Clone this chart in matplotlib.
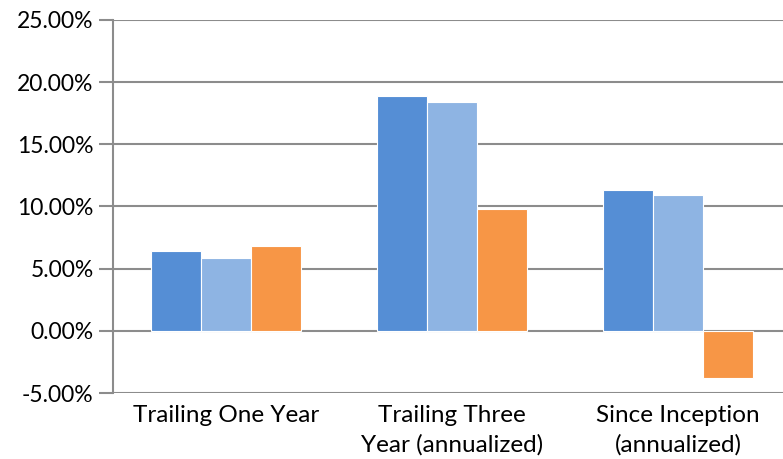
import matplotlib
matplotlib.use("Agg")
import matplotlib.pyplot as plt
import numpy as np
from matplotlib.ticker import FuncFormatter

categories = ["Trailing One Year", "Trailing Three\nYear (annualized)", "Since Inception\n(annualized)"]
series_a = [6.4, 18.9, 11.3]
series_b = [5.85, 18.4, 10.9]
series_c = [6.8, 9.8, -3.8]
colors = ["#558ED5", "#8EB4E3", "#F79646"]

plt.rcParams['font.family'] = ['Lato', 'DejaVu Sans']

fig = plt.figure(figsize=(7.83, 4.59), dpi=100)
ax = fig.add_axes([113/783, 1-393/459, 678/783, 373/459])

x = np.arange(len(categories))
w = 0.222
for i, (vals, c) in enumerate(zip([series_a, series_b, series_c], colors)):
    ax.bar(x + (i-1)*w, vals, w, color=c, edgecolor="white", linewidth=0.8, zorder=3)

ax.set_xlim(-0.5, 2.5)
ax.set_ylim(-5, 25)
ax.set_yticks(np.arange(-5, 26, 5))
ax.yaxis.set_major_formatter(FuncFormatter(lambda v, p: f"{v:.2f}%"))
ax.set_xticks(x)
ax.set_xticklabels(categories)
ax.grid(axis="y", color="#8c8c8c", linewidth=1.5, zorder=0)
for s in ["top", "right", "bottom"]:
    ax.spines[s].set_visible(False)
ax.spines["left"].set_color("#8c8c8c")
ax.spines["left"].set_linewidth(1.5)
ax.tick_params(axis="y", length=10, color="#8c8c8c", width=1.5, labelsize=16.5, pad=4)
ax.tick_params(axis="x", length=0, labelsize=17.5, pad=9)
for t in ax.get_xticklabels():
    t.set_linespacing(1.42)

fig.savefig("out.png", dpi=100)
